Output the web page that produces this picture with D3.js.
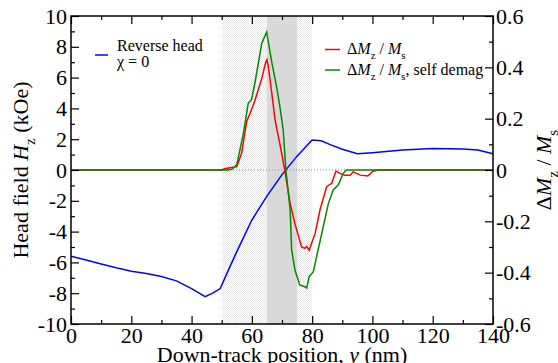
<!DOCTYPE html>
<html lang="en">
<head>
  <meta charset="UTF-8" />
  <title>Head field and magnetization change vs down-track position</title>
  <style>
    body { margin: 0; background: #fff; }
    svg { display: block; }
    svg text { font-family: "Liberation Serif", "Times New Roman", serif; white-space: pre; }
  </style>
</head>
<body>
  <div id="chart"></div>
  <script src="https://d3js.org/d3.v7.min.js"></script>
  <script>
    // Reverse head field, chi = 0 (kOe, left axis)
    var headX  = [0, 5, 10, 15, 20, 25, 30, 35, 40, 44.5, 47, 49.5, 52, 55, 60, 65, 70, 75, 80, 83, 86, 90, 95, 100, 110, 120, 130, 135, 140];
    var headHz = [-5.6, -5.85, -6.1, -6.35, -6.57, -6.72, -6.92, -7.2, -7.7, -8.22, -8.0, -7.7, -6.6, -5.3, -3.25, -1.7, -0.3, 0.9, 1.95, 1.9, 1.65, 1.35, 1.05, 1.12, 1.3, 1.4, 1.37, 1.3, 1.05];

    // Delta Mz / Ms (right axis)
    var dmX  = [0, 50, 51, 52.7, 55, 56.6, 58.3, 59.4, 61, 63.3, 64.6, 65, 65.5, 66.6, 67.7, 68.8, 69.9, 70.9, 72.7, 74.3, 76.5, 77.6, 78.2, 79, 81, 82.6, 84.8, 86.5, 87.9, 89.2, 90.9, 92.6, 93.6, 96, 98.5, 100.2, 102, 140];
    var dmMz = [0, 0, 0.005, 0.009, 0.013, 0.065, 0.19, 0.22, 0.27, 0.357, 0.42, 0.43, 0.4, 0.3, 0.195, 0.13, 0.065, 0, -0.13, -0.21, -0.3, -0.305, -0.298, -0.313, -0.247, -0.156, -0.065, -0.052, -0.004, -0.013, -0.02, -0.02, -0.007, -0.02, -0.023, -0.005, 0, 0];

    // Delta Mz / Ms with self demag (right axis)
    var sdX  = [0, 52, 53.3, 55, 57.2, 58.8, 59.9, 61, 63.3, 64.9, 66.6, 68.2, 69.3, 70.4, 71.3, 72.7, 73.2, 74.3, 75.9, 77.6, 78.2, 79, 80.4, 82, 83.7, 85.4, 87, 88.7, 90.3, 91.4, 140];
    var sdMz = [0, 0, 0.003, 0.02, 0.143, 0.26, 0.275, 0.338, 0.494, 0.537, 0.42, 0.325, 0.247, 0.156, 0, -0.156, -0.31, -0.39, -0.448, -0.455, -0.46, -0.415, -0.396, -0.31, -0.22, -0.13, -0.078, -0.058, -0.013, 0, 0];

    // shaded bands (nm)
    var outerBand = [50, 80];
    var innerBand = [65, 75];

    // ticks
    var xTicks = [0, 20, 40, 60, 80, 100, 120, 140];
    var xMinor = [10, 30, 50, 70, 90, 110, 130];
    var leftTicks  = [-10, -8, -6, -4, -2, 0, 2, 4, 6, 8, 10];
    var leftLabels = ["-10", "-8", "-6", "-4", "-2", "0", "2", "4", "6", "8", "10"];
    var leftMinor  = [-9, -7, -5, -3, -1, 1, 3, 5, 7, 9];
    var rightTicks  = [-0.6, -0.4, -0.2, 0, 0.2, 0.4, 0.6];
    var rightLabels = ["-0.6", "-0.4", "-0.2", "0", "0.2", "0.4", "0.6"];
    var rightMinor  = [-0.5, -0.3, -0.1, 0.1, 0.3, 0.5];

    var W = 558, H = 363;
    var plot = {left: 71, right: 493, top: 16, bottom: 324};
    var serif = "Liberation Serif, Times New Roman, serif";

    var svg = d3.select("#chart")
      .append("svg")
      .attr("width", W)
      .attr("height", H)
      .attr("font-family", serif);

    var x = d3.scaleLinear().domain([0, 140]).range([plot.left, plot.right]);
    var yL = d3.scaleLinear().domain([-10, 10]).range([plot.bottom, plot.top]);
    var yR = d3.scaleLinear().domain([-0.6, 0.6]).range([plot.bottom, plot.top]);

    // checker pattern for the outer band
    var pat = svg.append("defs").append("pattern")
      .attr("id", "checker")
      .attr("width", 2).attr("height", 2)
      .attr("patternUnits", "userSpaceOnUse");
    pat.append("rect").attr("width", 2).attr("height", 2).attr("fill", "#ffffff");
    pat.append("rect").attr("width", 1).attr("height", 1).attr("fill", "#e6e6e6");
    pat.append("rect").attr("x", 1).attr("y", 1).attr("width", 1).attr("height", 1).attr("fill", "#e6e6e6");

    svg.append("rect")
      .attr("x", x(outerBand[0]))
      .attr("y", plot.top)
      .attr("width", x(outerBand[1]) - x(outerBand[0]))
      .attr("height", plot.bottom - plot.top)
      .attr("fill", "url(#checker)");

    svg.append("rect")
      .attr("x", x(innerBand[0]))
      .attr("y", plot.top)
      .attr("width", x(innerBand[1]) - x(innerBand[0]))
      .attr("height", plot.bottom - plot.top)
      .attr("fill", "#d9d9d9");

    // dotted zero line
    svg.append("line")
      .attr("x1", plot.left).attr("x2", plot.right)
      .attr("y1", yR(0)).attr("y2", yR(0))
      .attr("stroke", "#888")
      .attr("stroke-width", 1)
      .attr("stroke-dasharray", "1,2");

    // curves
    var lineL = d3.line().x(function(d) { return x(d[0]); }).y(function(d) { return yL(d[1]); });
    var lineR = d3.line().x(function(d) { return x(d[0]); }).y(function(d) { return yR(d[1]); });

    svg.append("path")
      .datum(d3.zip(headX, headHz))
      .attr("d", lineL)
      .attr("fill", "none")
      .attr("stroke", "#0000ff")
      .attr("stroke-width", 1.5);

    svg.append("path")
      .datum(d3.zip(dmX, dmMz))
      .attr("d", lineR)
      .attr("fill", "none")
      .attr("stroke", "#ff0000")
      .attr("stroke-width", 1.5);

    svg.append("path")
      .datum(d3.zip(sdX, sdMz))
      .attr("d", lineR)
      .attr("fill", "none")
      .attr("stroke", "#008b00")
      .attr("stroke-width", 1.5);

    // axes, ticks pointing inward
    function styleAxis(g, size) {
      g.select(".domain").remove();
      g.selectAll(".tick line").attr("stroke-width", 1.2);
      g.attr("font-family", serif).attr("font-size", size);
      g.selectAll("text").attr("fill", "#000");
    }

    svg.append("g")
      .attr("transform", "translate(0," + plot.bottom + ")")
      .call(d3.axisBottom(x).tickValues(xTicks).tickFormat(function(d) { return String(d); }).tickSize(-8).tickPadding(3))
      .call(styleAxis, 22);
    svg.append("g")
      .attr("transform", "translate(0," + plot.bottom + ")")
      .call(d3.axisBottom(x).tickValues(xMinor).tickFormat("").tickSize(-4))
      .call(styleAxis, 22);
    svg.append("g")
      .attr("transform", "translate(0," + plot.top + ")")
      .call(d3.axisTop(x).tickValues(xTicks).tickFormat("").tickSize(-8))
      .call(styleAxis, 22);
    svg.append("g")
      .attr("transform", "translate(0," + plot.top + ")")
      .call(d3.axisTop(x).tickValues(xMinor).tickFormat("").tickSize(-4))
      .call(styleAxis, 22);

    svg.append("g")
      .attr("transform", "translate(" + plot.left + ",0)")
      .call(d3.axisLeft(yL).tickValues(leftTicks).tickFormat(function(d, i) { return leftLabels[i]; }).tickSize(-8).tickPadding(4))
      .call(styleAxis, 22);
    svg.append("g")
      .attr("transform", "translate(" + plot.left + ",0)")
      .call(d3.axisLeft(yL).tickValues(leftMinor).tickFormat("").tickSize(-4))
      .call(styleAxis, 22);

    svg.append("g")
      .attr("transform", "translate(" + plot.right + ",0)")
      .call(d3.axisRight(yR).tickValues(rightTicks).tickFormat(function(d, i) { return rightLabels[i]; }).tickSize(-8).tickPadding(3))
      .call(styleAxis, 22);
    svg.append("g")
      .attr("transform", "translate(" + plot.right + ",0)")
      .call(d3.axisRight(yR).tickValues(rightMinor).tickFormat("").tickSize(-4))
      .call(styleAxis, 22);

    // frame
    svg.append("rect")
      .attr("x", plot.left).attr("y", plot.top)
      .attr("width", plot.right - plot.left)
      .attr("height", plot.bottom - plot.top)
      .attr("fill", "none")
      .attr("stroke", "#000")
      .attr("stroke-width", 1.5);

    // text with italics and subscripts
    function richText(g, tx, ty, size, parts, anchor) {
      var t = g.append("text")
        .attr("x", tx).attr("y", ty)
        .attr("font-family", serif)
        .attr("font-size", size)
        .attr("text-anchor", anchor || "start")
        .attr("fill", "#000");
      var shift = 0;
      parts.forEach(function(p) {
        var s = p.sub ? size * 0.32 : 0;
        t.append("tspan")
          .attr("dy", s - shift)
          .attr("font-size", p.sub ? size * 0.68 : size)
          .attr("font-style", p.it ? "italic" : null)
          .text(p.t);
        shift = s;
      });
      return t;
    }

    // axis titles
    richText(svg, (plot.left + plot.right) / 2, 362, 22, [
      {t: "Down-track position, "}, {t: "y", it: true}, {t: " (nm)"}
    ], "middle");

    richText(svg.append("g").attr("transform", "translate(28," + (plot.top + plot.bottom) / 2 + ") rotate(-90)"), 0, 0, 22, [
      {t: "Head field "}, {t: "H", it: true}, {t: "z", sub: true}, {t: " (kOe)"}
    ], "middle");

    richText(svg.append("g").attr("transform", "translate(551," + (plot.top + plot.bottom) / 2 + ") rotate(-90)"), 0, 0, 22, [
      {t: "\u0394"}, {t: "M", it: true}, {t: "z", sub: true}, {t: " / "}, {t: "M", it: true}, {t: "s", sub: true}
    ], "middle");

    // legends
    svg.append("line")
      .attr("x1", 95).attr("x2", 108).attr("y1", 55).attr("y2", 55)
      .attr("stroke", "#0000ff").attr("stroke-width", 1.5);
    richText(svg, 117, 50.5, 16, [{t: "Reverse head"}]);
    richText(svg, 117, 66.5, 16, [{t: "\u03c7 = 0"}]);

    svg.append("line")
      .attr("x1", 325).attr("x2", 340).attr("y1", 49.5).attr("y2", 49.5)
      .attr("stroke", "#ff0000").attr("stroke-width", 1.5);
    richText(svg, 347, 54, 16, [
      {t: "\u0394"}, {t: "M", it: true}, {t: "z", sub: true}, {t: " / "}, {t: "M", it: true}, {t: "s", sub: true}
    ]);

    svg.append("line")
      .attr("x1", 325).attr("x2", 340).attr("y1", 70).attr("y2", 70)
      .attr("stroke", "#008b00").attr("stroke-width", 1.5);
    richText(svg, 347, 75, 16, [
      {t: "\u0394"}, {t: "M", it: true}, {t: "z", sub: true}, {t: " / "}, {t: "M", it: true}, {t: "s", sub: true}, {t: ", self demag"}
    ]);
  </script>
</body>
</html>
